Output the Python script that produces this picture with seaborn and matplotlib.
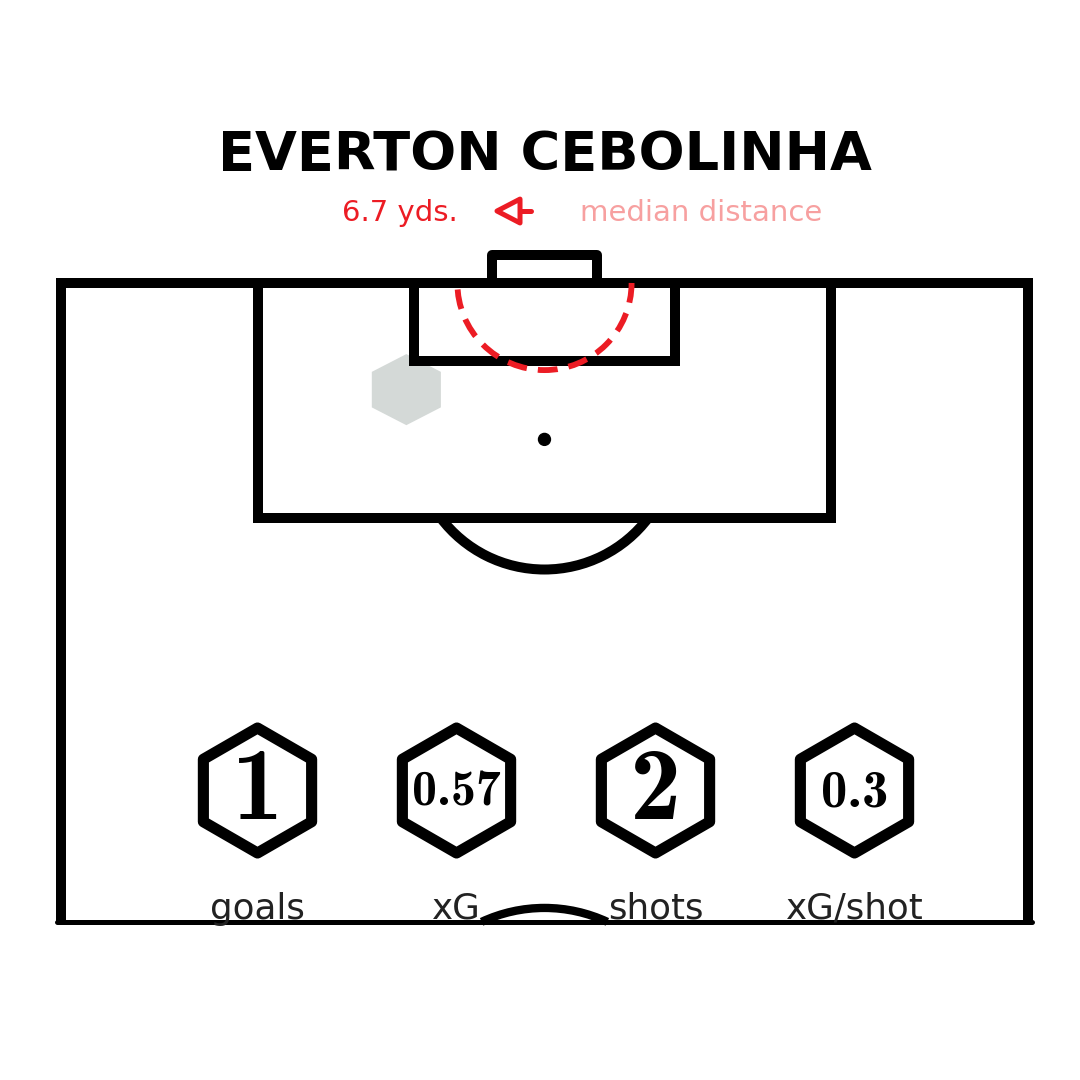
import numpy as np
import matplotlib.pyplot as plt
import seaborn as sns
from matplotlib.patches import Arc, Circle, Polygon
from matplotlib.colors import ListedColormap

# ---- data ----
player = "EVERTON CEBOLINHA"
median_distance_yds = 6.7
shot_x = [24.1, 24.5]   # metres from left touchline
shot_y = [7.2, 7.6]     # metres from goal line
stat_names = ["goals", "xG", "shots", "xG/shot"]
stat_values = ["1", "0.57", "2", "0.3"]
stat_sizes = [74, 36, 74, 38]

# ---- pitch dims (uefa, metres) ----
W = 68.0
HALF = 52.5
BOX_W, BOX_D = 40.32, 16.5
SIX_W, SIX_D = 18.32, 5.5
GOAL_W, GOAL_D = 7.32, 2.0
SPOT = 11.0
ARC_R = 9.15
BOTTOM = 44.94   # where the picture cuts the pitch

RED = "#ec1c24"
PINK = "#f7a0a0"
LINE = "black"
LW = 7.2

sns.set_theme(style="white")
plt.rcParams['font.family'] = ['DejaVu Sans']

fig = plt.figure(figsize=(10.8, 10.8), dpi=100)
ax = fig.add_axes([0, 0, 1, 1])


def box(width, depth, join='miter'):
    x0, x1 = W / 2 - width / 2, W / 2 + width / 2
    ax.plot([x0, x0, x1, x1], [0, depth, depth, 0], color=LINE, lw=LW,
            solid_joinstyle=join, zorder=2)


# outer lines
ax.plot([0, 0, W, W], [BOTTOM, 0, 0, BOTTOM], color=LINE, lw=LW,
        solid_joinstyle='miter', solid_capstyle='butt', zorder=2)
ax.plot([-0.3, W + 0.3], [BOTTOM, BOTTOM], color=LINE, lw=3.6, zorder=2)
box(BOX_W, BOX_D)
box(SIX_W, SIX_D)
box(GOAL_W, -GOAL_D, join='round')
ax.add_patch(Circle((W / 2, SPOT), 0.42, color=LINE, zorder=2))
ang = np.degrees(np.arcsin((BOX_D - SPOT) / ARC_R))
ax.add_patch(Arc((W / 2, SPOT), 2 * ARC_R, 2 * ARC_R, theta1=ang, theta2=180 - ang,
                 color=LINE, lw=LW, zorder=2))
# bit of the centre circle peeking at the bottom
ax.add_patch(Arc((W / 2, 54.41), 2 * 10.46, 2 * 10.46, theta1=245, theta2=295,
                 color=LINE, lw=6, zorder=2))

# shots
ax.hexbin(shot_x, shot_y, gridsize=(14, 7), extent=(0, W, 0, HALF), mincnt=1,
          cmap=ListedColormap(['#d4d9d7']), edgecolors='none', zorder=1)

# median distance
r = median_distance_yds * 0.9144
ax.add_patch(Arc((W / 2, 0), 2 * r, 2 * r, theta1=0, theta2=180, color=RED,
                 lw=4.2, linestyle=(0, (3.4, 1.9)), zorder=3))

# title + subtitle
ax.text(W / 2, -7.95, player, ha='center', va='baseline', fontsize=39,
        fontweight='heavy', color='black')
ax.text(23.84, -4.36, f"{median_distance_yds} yds.", ha='center', va='baseline',
        fontsize=21, color=RED)
ax.text(45.0, -4.36, "median distance", ha='center', va='baseline',
        fontsize=21, color=PINK)
ax.add_patch(Polygon([(30.66, -5.06), (32.28, -5.9), (32.28, -4.22)], closed=True,
                     fill=False, edgecolor=RED, lw=3.6, joinstyle='round'))
ax.plot([32.28, 33.05], [-5.06, -5.06], color=RED, lw=3.6)

# stat hexagons
stat_x = np.linspace(13.8, 55.8, len(stat_names))
hex_y = 35.69
sns.scatterplot(x=stat_x, y=[hex_y] * len(stat_x), marker='h', s=8100,
                color='white', edgecolor='black', linewidth=8, ax=ax,
                zorder=4, legend=False)
for x, name, val, fs in zip(stat_x, stat_names, stat_values, stat_sizes):
    ax.text(x, hex_y + 0.2, val, ha='center', va='center', fontsize=fs,
            family=['cmb10', 'DejaVu Serif'], color='black', zorder=5)
    ax.text(x, 44.7, name, ha='center', va='baseline', fontsize=25.7,
            color='#222222', zorder=5)

ax.set_xlim(-4.29, 71.66)
ax.set_ylim(56.05, -19.9)
ax.axis('off')
fig.savefig("out.png", dpi=100, facecolor='white')
